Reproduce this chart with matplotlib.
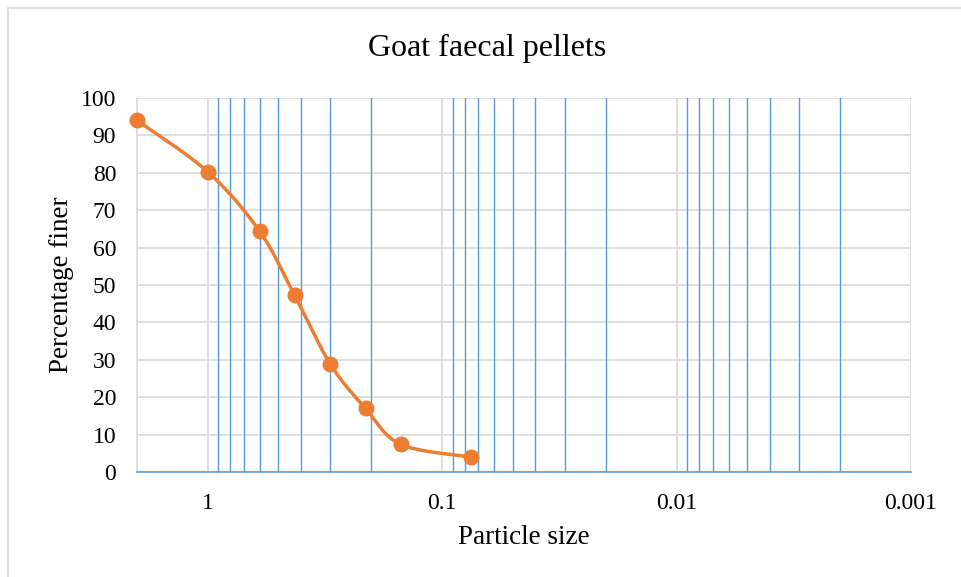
import numpy as np
import matplotlib
matplotlib.use("Agg")
import matplotlib.pyplot as plt
from matplotlib.patches import Rectangle

# Data
particle_size = [2.0, 1.0, 0.6, 0.425, 0.3, 0.212, 0.15, 0.075]
percent_finer = [94.0, 80.3, 64.4, 47.2, 28.9, 17.0, 7.4, 4.0]
x_ticks = [1, 0.1, 0.01, 0.001]
x_tick_labels = ["1", "0.1", "0.01", "0.001"]
y_ticks = [0, 10, 20, 30, 40, 50, 60, 70, 80, 90, 100]
minor_lines = [m * 10.0 ** e for e in (-1, -2, -3) for m in range(2, 10)]

title = "Goat faecal pellets"
xlabel = "Particle size"
ylabel = "Percentage finer"

plt.rcParams['font.family'] = ['Liberation Serif', 'DejaVu Serif']

W, H = 962, 577
fig = plt.figure(figsize=(W / 100, H / 100), dpi=100)

# outer border
fig.add_artist(Rectangle((8 / W, -0.1), 1.2, 1 - 8 / H + 0.1, transform=fig.transFigure,
                         fill=False, edgecolor="#D9D9D9", linewidth=1.2))

ax = fig.add_axes([137 / W, 1 - 472 / H, 774 / W, 374 / H])
ax.set_xscale("log")
ax.set_xlim(2, 0.001)
ax.set_ylim(0, 100)

# gridlines
for yv in y_ticks:
    ax.axhline(yv, color="#D9D9D9", linewidth=1.2, zorder=1)
for xv in x_ticks:
    ax.axvline(xv, color="#D9D9D9", linewidth=1.2, zorder=1)
for xv in minor_lines:
    ax.axvline(xv, color="#5B9BD5", linewidth=1.0, zorder=2)

for s in ["top", "right"]:
    ax.spines[s].set_visible(False)
ax.spines["left"].set_color("#D9D9D9")
ax.spines["left"].set_linewidth(1.2)
ax.spines["bottom"].set_color("#5B9BD5")
ax.spines["bottom"].set_linewidth(1.2)
ax.spines["bottom"].set_zorder(3)

ax.set_xticks(x_ticks)
ax.set_xticklabels(x_tick_labels)
ax.xaxis.set_minor_locator(matplotlib.ticker.NullLocator())
ax.set_yticks(y_ticks)
ax.tick_params(axis="both", length=0, labelsize=17, colors="#000000")
ax.tick_params(axis="x", pad=15)
ax.tick_params(axis="y", pad=15)

# smoothed line (Catmull-Rom in log-x / y space, like Excel's smoothing)
lx = np.log10(np.array(particle_size))
yy = np.array(percent_finer)
P = np.column_stack([lx, yy])
Pp = np.vstack([P[0], P, P[-1]])
curve = []
t = np.linspace(0, 1, 40)
for i in range(1, len(Pp) - 2):
    p0, p1, p2, p3 = Pp[i - 1], Pp[i], Pp[i + 1], Pp[i + 2]
    c1 = p1 + (p2 - p0) / 6
    c2 = p2 - (p3 - p1) / 6
    seg = ((1 - t) ** 3)[:, None] * p1 + (3 * (1 - t) ** 2 * t)[:, None] * c1 + \
          (3 * (1 - t) * t ** 2)[:, None] * c2 + (t ** 3)[:, None] * p2
    curve.append(seg)
curve = np.vstack(curve)
ax.plot(10 ** curve[:, 0], curve[:, 1], color="#ED7D31", linewidth=2.5, zorder=4,
        solid_capstyle="round", clip_on=False)
ax.plot(particle_size, percent_finer, "o", color="#ED7D31", markersize=10.5, zorder=5,
        clip_on=False)

ax.set_xlabel(xlabel, fontsize=19.5, labelpad=8)
ax.set_ylabel(ylabel, fontsize=19.5, labelpad=5)
fig.text(487 / W, 1 - 48 / H, title, fontsize=23, ha="center", va="center")

fig.savefig("out.png", dpi=100)
